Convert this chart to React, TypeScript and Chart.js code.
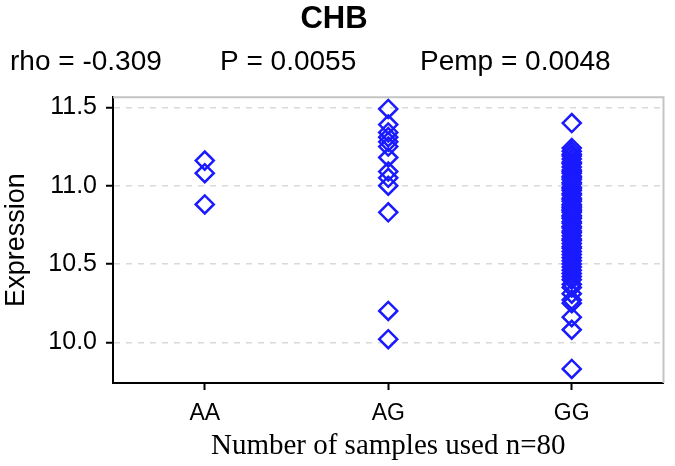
import React, { useEffect, useRef } from 'react';
import { Chart, registerables } from 'chart.js';

Chart.register(...registerables);

const categories = ['AA', 'AG', 'GG'];
const aaValues = [11.16, 11.08, 10.88];
const agValues = [11.49, 11.39, 11.34, 11.31, 11.28, 11.25, 11.18, 11.09, 11.05, 11.0, 10.83, 10.2, 10.02];
const ggValues = [
  11.4, 11.24, 11.22, 11.2, 11.19, 11.17, 11.15, 11.14, 11.12, 11.1, 11.09, 11.08, 11.06, 11.05, 11.04, 11.02,
  11.01, 10.99, 10.98, 10.97, 10.95, 10.94, 10.92, 10.91, 10.9, 10.88, 10.87, 10.86, 10.85, 10.84, 10.83, 10.81,
  10.8, 10.79, 10.77, 10.76, 10.74, 10.73, 10.71, 10.7, 10.68, 10.66, 10.65, 10.63, 10.61, 10.6, 10.58, 10.56,
  10.54, 10.52, 10.5, 10.48, 10.46, 10.44, 10.42, 10.4, 10.37, 10.35, 10.31, 10.27, 10.25, 10.16, 10.08, 9.83,
];
const yTicks = [10.0, 10.5, 11.0, 11.5];
const yMin = 9.74;
const yMax = 11.565;
const chartTitle = 'CHB';
const statsTexts = ['rho = -0.309', 'P = 0.0055', 'Pemp = 0.0048'];
const xTitle = 'Number of samples used n=80';
const yTitle = 'Expression';

const SANS = '"Liberation Sans", Arial, sans-serif';
const SERIF = '"Liberation Serif", "Times New Roman", serif';

const statsPlugin = {
  id: 'statsLine',
  afterDraw(chart: any) {
    const ctx = chart.ctx;
    const xs = [10, 220, 420];
    ctx.save();
    ctx.font = `28px ${SANS}`;
    ctx.fillStyle = '#000';
    ctx.textBaseline = 'middle';
    ctx.textAlign = 'left';
    statsTexts.forEach((t, i) => ctx.fillText(t, xs[i], 62));
    ctx.restore();
  },
};

const framePlugin = {
  id: 'frame',
  beforeDatasetsDraw(chart: any) {
    const { ctx, chartArea } = chart;
    ctx.save();
    ctx.strokeStyle = '#c4c4c4';
    ctx.lineWidth = 2;
    ctx.beginPath();
    ctx.moveTo(chartArea.left, chartArea.top);
    ctx.lineTo(chartArea.right, chartArea.top);
    ctx.lineTo(chartArea.right, chartArea.bottom);
    ctx.stroke();
    ctx.restore();
  },
};

export default function App() {
  const ref = useRef<HTMLCanvasElement>(null);

  useEffect(() => {
    if (!ref.current) return;
    const points = [
      ...aaValues.map((v) => ({ x: categories[0], y: v })),
      ...agValues.map((v) => ({ x: categories[1], y: v })),
      ...ggValues.map((v) => ({ x: categories[2], y: v })),
    ];
    const chart = new Chart(ref.current, {
      type: 'scatter',
      data: {
        labels: categories,
        datasets: [
          {
            data: points as any,
            pointStyle: 'rectRot',
            pointRadius: 9,
            pointHoverRadius: 9,
            borderColor: '#1a1aff',
            backgroundColor: 'rgba(255,255,255,0)',
            borderWidth: 2.5,
          },
        ],
      },
      options: {
        responsive: false,
        animation: false,
        layout: { padding: { top: 0, right: 7, bottom: 0, left: 0 } },
        plugins: {
          legend: { display: false },
          tooltip: { enabled: false },
          title: {
            display: true,
            text: chartTitle,
            color: '#000',
            font: { family: SANS, size: 31, weight: 'bold' },
            padding: { top: 1, bottom: 59 },
          },
        },
        scales: {
          x: {
            type: 'category',
            labels: categories,
            offset: true,
            grid: {
              drawOnChartArea: false,
              drawTicks: true,
              tickLength: 7,
              tickColor: '#000',
              tickWidth: 2,
              offset: false,
            },
            border: { display: true, color: '#000', width: 2 },
            ticks: {
              color: '#000',
              font: { family: SANS, size: 23 },
              padding: 10,
            },
            title: {
              display: true,
              text: xTitle,
              color: '#000',
              font: { family: SERIF, size: 29 },
              padding: { top: 0, bottom: 2 },
            },
            afterFit(scale: any) {
              scale.height = 83;
            },
          },
          y: {
            type: 'linear',
            min: yMin,
            max: yMax,
            afterBuildTicks(scale: any) {
              scale.ticks = yTicks.map((v) => ({ value: v }));
            },
            grid: {
              color: '#d9d9d9',
              lineWidth: 1.5,
              tickBorderDash: [],
              tickColor: '#000',
              tickWidth: 2,
              tickLength: 7,
            },
            border: { display: true, color: '#000', width: 2, dash: [6, 6] },
            ticks: {
              color: '#000',
              font: { family: SANS, size: 25 },
              padding: 9,
              callback: (v: any) => Number(v).toFixed(1),
            },
            title: {
              display: true,
              text: yTitle,
              color: '#000',
              font: { family: SANS, size: 27 },
              padding: { top: 0, bottom: 0 },
            },
            afterFit(scale: any) {
              scale.width = 113;
            },
          },
        },
      },
      plugins: [framePlugin, statsPlugin],
    });
    return () => chart.destroy();
  }, []);

  return (
    <div style={{ position: 'fixed', left: 0, top: 0, width: 675, height: 466, background: '#fff' }}>
      <canvas ref={ref} width={675} height={466} style={{ display: 'block' }} />
    </div>
  );
}
